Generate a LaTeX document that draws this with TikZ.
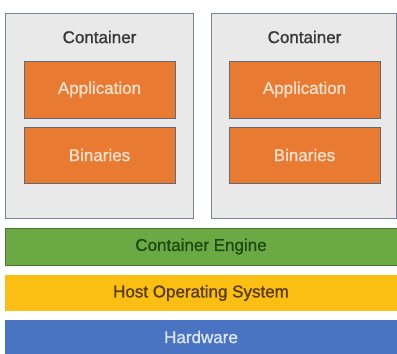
\documentclass[tikz,border=0pt]{standalone}
\usepackage{fontspec}
\setmainfont{Liberation Sans}
\newfontfamily\diagfont[FakeBold=1.2]{Liberation Sans}
\definecolor{contfill}{HTML}{E9E9EA}
\definecolor{contedge}{HTML}{7A8496}
\definecolor{orangebox}{HTML}{E97A32}
\definecolor{orangetext}{HTML}{FBE0CB}
\definecolor{greenband}{HTML}{6BA945}
\definecolor{greentext}{HTML}{1D4A12}
\definecolor{yellowband}{HTML}{FBBF14}
\definecolor{yellowtext}{HTML}{5A3A05}
\definecolor{blueband}{HTML}{4A73C1}
\definecolor{bluetext}{HTML}{DCE6F7}
\definecolor{labeltext}{HTML}{383838}
\begin{document}
\begin{tikzpicture}[x=1pt,y=1pt,
  container/.style={draw=contedge, line width=0.8pt, fill=contfill, inner sep=0pt},
  inner/.style={draw=contedge!80!black, line width=0.8pt, fill=orangebox, text=orangetext, font=\diagfont\fontsize{17}{20}\selectfont, minimum width=151pt, inner sep=0pt},
  band/.style={fill=#1, minimum width=392pt, inner sep=0pt, font=\diagfont\fontsize{17}{20}\selectfont},
  lbl/.style={text=labeltext, font=\diagfont\fontsize{17}{20}\selectfont, inner sep=0pt}
]
\useasboundingbox (0,0) rectangle (397,-354);
\fill[white] (0,0) rectangle (397,-354);
% containers
\node[container, minimum width=188pt, minimum height=205pt] (c1) at (99,-115.5) {};
\node[container, minimum width=185pt, minimum height=205pt] (c2) at (303.5,-115.5) {};
\node[lbl] (l1) at (99.5,-37) {Container};
\node[lbl] (l2) at (304.5,-37) {Container};
\node[inner, minimum height=57pt] (a1) at (99.5,-89.5) {Application};
\node[inner, minimum height=56pt] (b1) at (99.5,-155) {Binaries};
\node[inner, minimum height=57pt] (a2) at (304.5,-89.5) {Application};
\node[inner, minimum height=56pt] (b2) at (304.5,-155) {Binaries};
% bands
\node[band=greenband, text=greentext, minimum height=37pt, draw=greenband!70!black, line width=0.5pt] (eng) at (201,-246.5) {Container Engine};
\node[band=yellowband, text=yellowtext, minimum height=36pt] (os) at (201,-293) {Host Operating System};
\node[band=blueband, text=bluetext, minimum height=34pt] (hw) at (201,-337) {Hardware};
\end{tikzpicture}
\end{document}
